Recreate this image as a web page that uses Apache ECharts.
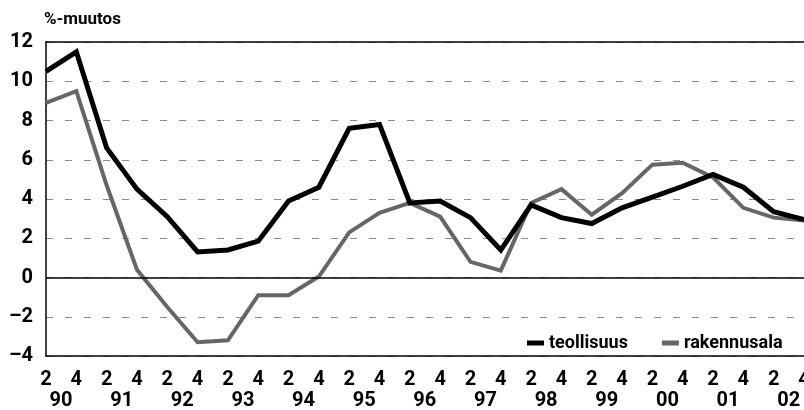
<!DOCTYPE html>
<html><head><meta charset="utf-8">
<script src="https://cdn.jsdelivr.net/npm/echarts@6/dist/echarts.min.js"></script>
<style>html,body{margin:0;padding:0;background:#fff}#c{width:804px;height:410px}</style>
</head><body><div id="c"></div>
<script>
const years = ['90','91','92','93','94','95','96','97','98','99','00','01','02'];
const quarters = ['2','4'];
const yTicks = [-4,-2,0,2,4,6,8,10,12];
const seriesNames = ['teollisuus','rakennusala'];
const teollisuus = [10.5, 11.5, 6.6, 4.5, 3.1, 1.3, 1.4, 1.85, 3.9, 4.6, 7.6, 7.8, 3.8, 3.9, 3.05, 1.4, 3.7, 3.05, 2.75, 3.55, 4.1, 4.65, 5.25, 4.6, 3.35, 2.95];
const rakennusala = [8.9, 9.5, 4.7, 0.4, -1.5, -3.3, -3.2, -0.9, -0.9, 0.05, 2.3, 3.3, 3.8, 3.1, 0.8, 0.35, 3.8, 4.5, 3.2, 4.3, 5.75, 5.85, 5.1, 3.55, 3.05, 2.9];

const categories = [];
years.forEach(y => quarters.forEach(q => categories.push(y + '/' + q)));

const FONT = 'Roboto,"Liberation Sans",sans-serif';
const FW = 'bold';
const chart = echarts.init(document.getElementById('c'), null, {renderer:'canvas'});
chart.setOption({
  animation:false,
  backgroundColor:'#fff',
  grid:{left:46, right:0, top:42, bottom:54, containLabel:false, outerBoundsMode:'none'},
  legend:{
    left:522, top:329, itemGap:34, itemWidth:17, itemHeight:5, width:282,
    textStyle:{fontFamily:FONT, fontWeight:FW, fontSize:18, color:'#000'},
    data:[
      {name:seriesNames[0], icon:'rect', itemStyle:{color:'#000'}},
      {name:seriesNames[1], icon:'rect', itemStyle:{color:'#666'}}
    ]
  },
  xAxis:[{
    type:'category', data:categories, boundaryGap:false,
    axisLine:{onZero:false, lineStyle:{color:'#000', width:1.5}},
    axisTick:{show:false},
    splitLine:{show:false},
    axisLabel:{
      interval:0, margin:13, color:'#000', fontFamily:FONT, fontWeight:FW, fontSize:20, lineHeight:21,
      hideOverlap:false, showMaxLabel:true, showMinLabel:true,
      formatter:(v)=>{const p=v.split('/'); return p[1]==='2' ? '{q|'+p[1]+'}\n{y|'+p[0]+'}' : '{q|'+p[1]+'}\n{y| }';},
      rich:{
        q:{fontFamily:FONT, fontWeight:FW, fontSize:20, color:'#000'},
        y:{fontFamily:FONT, fontWeight:FW, fontSize:20, color:'#000', padding:[0,0,0,30]}
      }
    }
  },{
    type:'category', data:categories, boundaryGap:false, position:'top',
    axisLine:{onZero:false, lineStyle:{color:'#000', width:1.5}},
    axisTick:{show:false}, axisLabel:{show:false}, splitLine:{show:false}
  }],
  yAxis:{
    type:'value', min:yTicks[0], max:yTicks[yTicks.length-1], interval:2,
    name:'%-muutos', nameLocation:'end', nameGap:14,
    nameTextStyle:{fontFamily:FONT, fontWeight:FW, fontSize:17, color:'#000', align:'left', padding:[0,0,0,-2]},
    axisLine:{show:true, lineStyle:{color:'#000', width:1.5}},
    axisTick:{show:false},
    axisLabel:{margin:13, color:'#000', fontFamily:FONT, fontWeight:FW, fontSize:20,
      formatter:(v)=> String(v).replace('-', '\u2013')},
    splitLine:{show:true, lineStyle:{color:'#8a8a8a', width:1, type:[7,12]}}
  },
  series:[
    {name:seriesNames[0], type:'line', data:teollisuus, symbol:'none', z:3,
     lineStyle:{color:'#000', width:5, join:'miter'}, itemStyle:{color:'#000'},
     markLine:{silent:true, symbol:'none', label:{show:false}, lineStyle:{color:'#000', width:1.5, type:'solid'}, data:[{yAxis:0}]}
    },
    {name:seriesNames[1], type:'line', data:rakennusala, symbol:'none', z:2,
     lineStyle:{color:'#666', width:4, join:'miter'}, itemStyle:{color:'#666'}}
  ]
});
</script></body></html>
